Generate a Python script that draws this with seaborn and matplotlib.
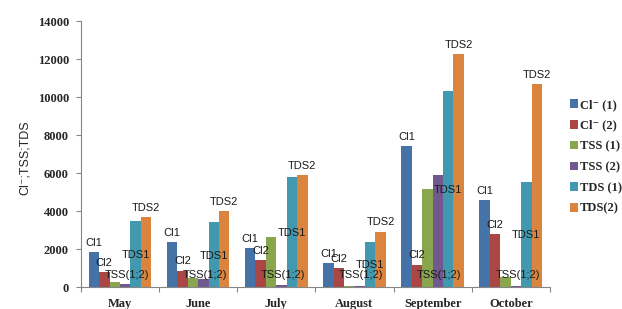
import numpy as np
import pandas as pd
import matplotlib
matplotlib.use("Agg")
import matplotlib.pyplot as plt
import seaborn as sns

# ---------------------------------------------------------------
# Data
# ---------------------------------------------------------------
months = ["May", "June", "July", "August", "September", "October"]
series = ["Cl\u207b (1)", "Cl\u207b (2)", "TSS (1)", "TSS (2)", "TDS (1)", "TDS(2)"]

cl1 = [1850, 2375, 2040, 1270, 7425, 4575]
cl2 = [790, 865, 1410, 980, 1180, 2800]
tss1 = [265, 475, 2640, 80, 5155, 530]
tss2 = [140, 420, 110, 70, 5880, 75]
tds1 = [3480, 3400, 5800, 2390, 10340, 5540]
tds2 = [3700, 3995, 5880, 2920, 12240, 10680]

# heights (data units) where the "TDS1" label text sits in each month
tds1_label_y = [1670, 1635, 2850, 1145, 5100, 2730]
tss_label_y = 650

colors = ["#4572A7", "#AA4643", "#89A54E", "#71588F", "#4198AF", "#DB843D"]

df = pd.DataFrame({
    "month": np.tile(months, 6),
    "series": np.repeat(series, 6),
    "value": cl1 + cl2 + tss1 + tss2 + tds1 + tds2,
})

# ---------------------------------------------------------------
# Figure
# ---------------------------------------------------------------
sns.set_style("white")
plt.rcParams["font.family"] = ["Liberation Serif", "DejaVu Serif"]

fig = plt.figure(figsize=(6.22, 3.09), dpi=100)
ax = fig.add_axes([0.130, 0.071, 0.754, 0.861])

sns.barplot(data=df, x="month", y="value", hue="series", order=months,
            hue_order=series, palette=colors, width=0.8, gap=0,
            saturation=1, linewidth=0, ax=ax, legend=True)

ax.set_ylim(0, 14000)
ax.set_yticks(range(0, 14001, 2000))
ax.set_xlim(-0.5, len(months) - 0.5)
ax.set_xlabel("")
ax.set_ylabel("")

for s in ["top", "right"]:
    ax.spines[s].set_visible(False)
for s in ["left", "bottom"]:
    ax.spines[s].set_color("#868686")
    ax.spines[s].set_linewidth(0.8)

ax.tick_params(axis="y", length=3.6, width=0.8, color="#868686", pad=5,
               labelsize=9, direction="out", left=True)
ax.tick_params(axis="x", length=0, pad=8, labelsize=9)
for lab in ax.get_yticklabels() + ax.get_xticklabels():
    lab.set_fontweight("bold")

# category separators on the x axis
ax.set_xticks(np.arange(-0.5, len(months)), minor=True)
ax.tick_params(axis="x", which="minor", length=3.6, width=0.8,
               color="#868686", direction="out", bottom=True)

fig.text(25 / 622, 1 - 158 / 309, "Cl\u207b;TSS;TDS", rotation=90,
         ha="center", va="center", fontsize=9,
         family=["Liberation Sans", "DejaVu Sans"])

# ---------------------------------------------------------------
# Bar labels
# ---------------------------------------------------------------
lab_kw = dict(fontsize=8, color="#1a1a1a",
              family=["Liberation Sans", "DejaVu Sans"])
bars = [list(c) for c in ax.containers]
for i in range(len(months)):
    b1, b2, b3, b4, b5, b6 = (bars[k][i] for k in range(6))
    for bar, txt in [(b1, "Cl1"), (b2, "Cl2"), (b6, "TDS2")]:
        ax.annotate(txt, (bar.get_x() + bar.get_width() / 2, bar.get_height()),
                    xytext=(0, 3), textcoords="offset points",
                    ha="center", va="bottom", **lab_kw)
    ax.text(b4.get_x() + b4.get_width() * 0.65, tss_label_y, "TSS(1;2)",
            ha="center", va="center", **lab_kw)
    ax.text(b5.get_x() + b5.get_width() / 2, tds1_label_y[i], "TDS1",
            ha="center", va="center", **lab_kw)

# ---------------------------------------------------------------
# Legend
# ---------------------------------------------------------------
handles, labels = ax.get_legend_handles_labels()
ax.get_legend().remove()
fig.legend(handles, labels, loc="upper left",
           bbox_to_anchor=(570 / 622, 1 - 99 / 309),
           frameon=False, borderpad=0, borderaxespad=0,
           handlelength=0.65, handleheight=0.65, handletextpad=0.15,
           labelspacing=0.7, prop={"size": 9, "weight": "bold"})

fig.savefig("out.png", dpi=100)
